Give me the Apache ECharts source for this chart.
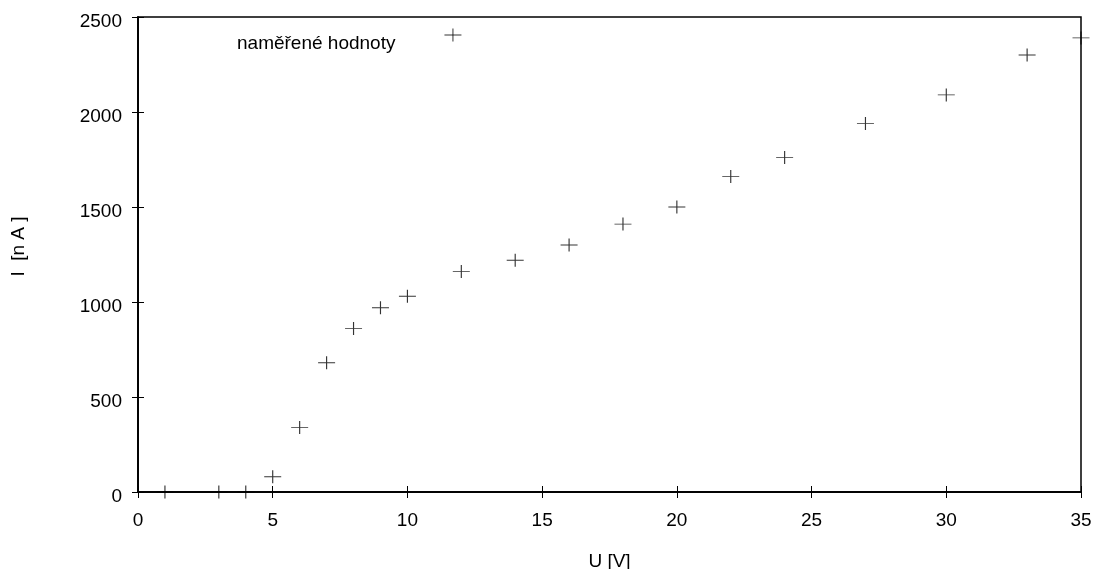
<!DOCTYPE html>
<html>
<head>
<meta charset="utf-8">
<script src="https://cdn.jsdelivr.net/npm/echarts@6/dist/echarts.min.js"></script>
<style>
  html, body { margin: 0; padding: 0; background: #fff; }
  #chart { width: 1099px; height: 569px; }
</style>
</head>
<body>
<div id="chart"></div>
<script>
  // measured points, U [V] vs I [nA]
  const voltage = [1, 3, 4, 5, 6, 7, 8, 9, 10, 12, 14, 16, 18, 20, 22, 24, 27, 30, 33, 35];
  const current = [0, 0, 0, 80, 340, 680, 860, 970, 1030, 1160, 1220, 1300, 1410, 1500, 1660, 1760, 1940, 2090, 2300, 2390];
  const xTicks = [0, 5, 10, 15, 20, 25, 30, 35];
  const yTicks = [0, 500, 1000, 1500, 2000, 2500];

  const points = voltage.map((u, i) => [u, current[i]]);
  const cross = 'path://M0,6.5L17,6.5M8.5,0L8.5,13';
  // legend cross sits above the text centre, so pad the icon box downwards
  const legendCross = 'path://M0,6.5L17,6.5M8.5,0L8.5,13M0,31';
  const font = 'Liberation Sans, Arial, sans-serif';

  const chart = echarts.init(document.getElementById('chart'));

  const tickStyle = { inside: true, length: 6, lineStyle: { color: '#000', width: 1 } };
  const lineStyle = { lineStyle: { color: '#000', width: 1.5 } };

  const option = {
    animation: false,
    backgroundColor: '#fff',
    grid: { left: 138, right: 18, top: 17, bottom: 77, outerBoundsMode: 'none',
            show: true, borderColor: '#000', borderWidth: 1.5 },
    legend: {
      left: 237,
      top: 26,
      padding: 0,
      align: 'right',
      itemWidth: 17,
      itemHeight: 31,
      textStyle: { fontFamily: font, fontSize: 19, color: '#000', padding: [0, 44, 0, 0] },
      data: [{ name: 'naměřené hodnoty', icon: legendCross,
               itemStyle: { color: 'none', borderColor: '#000', borderWidth: 1 } }]
    },
    xAxis: [{
      type: 'value',
      min: xTicks[0],
      max: xTicks[xTicks.length - 1],
      interval: 5,
      name: 'U [V]',
      nameLocation: 'middle',
      nameGap: 60,
      nameTextStyle: { fontFamily: font, fontSize: 19, color: '#000' },
      axisLine: lineStyle,
      axisTick: tickStyle,
      axisLabel: { fontFamily: font, fontSize: 19, color: '#000', margin: 19 },
      splitLine: { show: false }
    }, {
      type: 'value',
      position: 'top',
      min: xTicks[0],
      max: xTicks[xTicks.length - 1],
      interval: 5,
      axisLine: lineStyle,
      axisTick: tickStyle,
      axisLabel: { show: false },
      splitLine: { show: false }
    }],
    yAxis: [{
      type: 'value',
      min: yTicks[0],
      max: yTicks[yTicks.length - 1],
      interval: 500,
      name: 'I  [n A ]',
      nameLocation: 'middle',
      nameGap: 110,
      nameTextStyle: { fontFamily: font, fontSize: 19, color: '#000', padding: [0, 0, 0, 16] },
      axisLine: lineStyle,
      axisTick: tickStyle,
      axisLabel: {
        margin: 16,
        formatter: v => '{t|' + v + '}',
        rich: { t: { fontFamily: font, fontSize: 19, color: '#000', padding: [10, 0, 0, 0] } }
      },
      splitLine: { show: false }
    }, {
      type: 'value',
      position: 'right',
      min: yTicks[0],
      max: yTicks[yTicks.length - 1],
      interval: 500,
      axisLine: lineStyle,
      axisTick: tickStyle,
      axisLabel: { show: false },
      splitLine: { show: false }
    }],
    series: [{
      name: 'naměřené hodnoty',
      type: 'scatter',
      data: points,
      symbol: cross,
      symbolSize: [17, 13],
      clip: false,
      itemStyle: { color: 'none', borderColor: '#000', borderWidth: 1 }
    }]
  };

  chart.setOption(option);
</script>
</body>
</html>
